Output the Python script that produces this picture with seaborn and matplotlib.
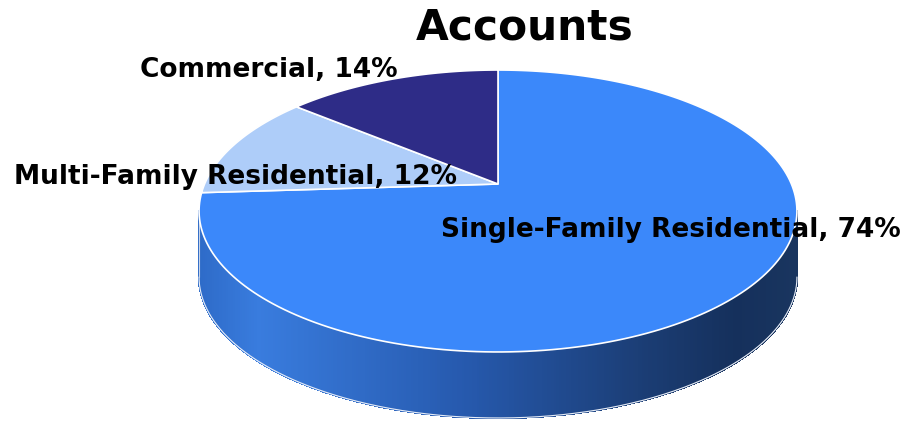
import numpy as np
import matplotlib
matplotlib.use("Agg")
import matplotlib.pyplot as plt
import seaborn as sns
from matplotlib.collections import PolyCollection
from matplotlib.colors import LinearSegmentedColormap

# data
labels = ["Single-Family Residential", "Multi-Family Residential", "Commercial"]
shares = [74, 12, 14]
colors = ["#3B88FA", "#AECDF9", "#2E2C87"]
title = "Accounts"

sns.set_theme(style="white")
plt.rcParams["font.family"] = ["DejaVu Sans"]

# pie geometry in pixel space (perspective projection of a disc)
cx, cy = 498, 184
A, B, k = 293.4, 135.8, 0.1915
depth = 66


def project(theta):
    u, v = np.cos(theta), np.sin(theta)
    d = 1 + k * v
    return cx + A * u / d, cy - B * v / d


fig = plt.figure(figsize=(9.16, 4.21), dpi=100)
ax = fig.add_axes([0, 0, 1, 1])
ax.set_xlim(0, 916)
ax.set_ylim(421, 0)
ax.axis("off")

# side wall with gradient
phi0 = np.pi + np.arcsin(k)
phi1 = 2 * np.pi - np.arcsin(k)
phis = np.linspace(phi0, phi1, 401)
xs, ys = project(phis)
wall_cmap = LinearSegmentedColormap.from_list(
    "wall",
    [(0.0, "#2E6BC8"), (0.1, "#397CDE"), (0.45, "#2659AD"),
     (0.75, "#1B3D74"), (0.9, "#15305C"), (1.0, "#19355F")])
xmin, xmax = xs.min(), xs.max()
polys, fc = [], []
for i in range(len(phis) - 1):
    polys.append([(xs[i], ys[i]), (xs[i + 1], ys[i + 1]),
                  (xs[i + 1], ys[i + 1] + depth), (xs[i], ys[i] + depth)])
    fc.append(wall_cmap(((xs[i] + xs[i + 1]) / 2 - xmin) / (xmax - xmin)))
ax.add_collection(PolyCollection(polys, facecolors=fc, edgecolors=fc,
                                 linewidths=1.0, antialiased=False))
ax.plot(xs, ys + depth, color="#E8EEF8", lw=0.8)
ax.plot([xs[0], xs[0]], [ys[0], ys[0] + depth], color="#C8D4E8", lw=0.8)

# top face wedges (start at 12 o'clock, clockwise)
start = 90.0
for lab, val, col in zip(labels, shares, colors):
    end = start - val / sum(shares) * 360
    t = np.radians(np.linspace(start, end, 200))
    px, py = project(t)
    ax.fill(np.r_[cx, px, cx], np.r_[cy, py, cy], facecolor=col,
            edgecolor="white", linewidth=1.2, zorder=3)
    start = end

# labels
font = dict(fontsize=19, fontweight="heavy", color="black", zorder=5)
pos = {"Single-Family Residential": (671, 230, "center"),
       "Multi-Family Residential": (235, 177, "center"),
       "Commercial": (269, 70, "center")}
for lab, val in zip(labels, shares):
    x, y, ha = pos[lab]
    ax.text(x, y, f"{lab}, {val}%", ha=ha, va="center", **font)

ax.text(525, 27, title, ha="center", va="center", fontsize=30.5,
        fontweight="heavy", color="black", zorder=5)

fig.savefig("out.png", dpi=100)
